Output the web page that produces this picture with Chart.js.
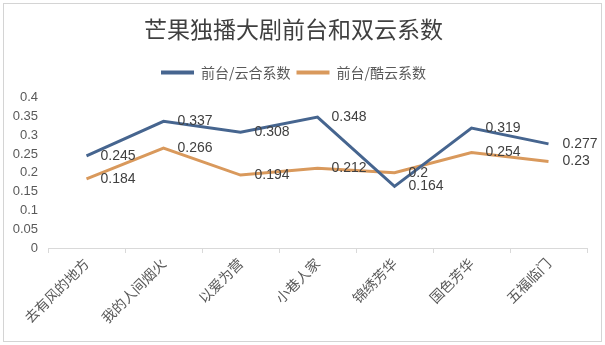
<!DOCTYPE html>
<html>
<head>
<meta charset="utf-8">
<script src="https://cdn.jsdelivr.net/npm/chart.js@4"></script>
<style>
  html, body { margin: 0; padding: 0; background: #ffffff; }
  #wrap { width: 605px; height: 345px; position: relative; }
</style>
</head>
<body>
<div id="wrap"><canvas id="chart"></canvas></div>
<script>
'use strict';

/* ── Data ─────────────────────────────────── */
const CATEGORIES = ['去有风的地方', '我的人间烟火', '以爱为营', '小巷人家', '锦绣芳华', '国色芳华', '五福临门'];
const SERIES_NAMES = ['前台/云合系数', '前台/酷云系数'];
const YUNHE = [0.245, 0.337, 0.308, 0.348, 0.164, 0.319, 0.277];
const KUYUN = [0.184, 0.266, 0.194, 0.212, 0.2, 0.254, 0.23];
const Y_MIN = 0, Y_MAX = 0.4, Y_STEP = 0.05;

const BLUE   = '#46658F';
const ORANGE = '#D9995C';
const TEXT   = '#595959';
const NUM_FONT = "'Liberation Sans', Arial, sans-serif";
const CJK_FONT = "'Noto Sans CJK SC', sans-serif";

/* ── Plugins ──────────────────────────────── */
const frame = {
  id: 'frame',
  beforeLayout(chart) {
    // give the legend a fixed block height so the plot starts at the right spot
    const lg = chart.legend;
    if (lg && !lg._fixedH) {
      const fit = lg.fit.bind(lg);
      lg.fit = function () { fit(); this.height = 38; };
      lg._fixedH = true;
    }
  },
  beforeDraw(chart) {
    const c = chart.ctx;
    c.save();
    c.fillStyle = '#ffffff';
    c.fillRect(0, 0, chart.width, chart.height);
    c.strokeStyle = '#d4d4d4';
    c.lineWidth = 1;
    c.strokeRect(3.5, 3.5, chart.width - 7, chart.height - 7);
    c.restore();
  },
};

// value labels to the right of each point (like Excel "right")
const valueLabels = {
  id: 'valueLabels',
  afterDatasetsDraw(chart) {
    const c = chart.ctx;
    c.save();
    c.font = `14px ${NUM_FONT}`;
    c.fillStyle = '#404040';
    c.textAlign = 'left';
    c.textBaseline = 'middle';
    chart.data.datasets.forEach((ds, i) => {
      chart.getDatasetMeta(i).data.forEach((pt, j) => {
        c.fillText(String(ds.data[j]), pt.x + 14, pt.y);
      });
    });
    c.restore();
  },
};

/* ── Chart ────────────────────────────────── */
new Chart(document.getElementById('chart').getContext('2d'), {
  type: 'line',
  data: {
    labels: CATEGORIES,
    datasets: [
      { label: SERIES_NAMES[0], data: YUNHE, borderColor: BLUE,   backgroundColor: BLUE,   borderWidth: 3, pointRadius: 0, tension: 0 },
      { label: SERIES_NAMES[1], data: KUYUN, borderColor: ORANGE, backgroundColor: ORANGE, borderWidth: 3, pointRadius: 0, tension: 0 },
    ],
  },
  options: {
    responsive: true,
    maintainAspectRatio: false,
    animation: false,
    layout: { padding: { left: 0, right: 18, top: 0, bottom: 0 } },
    plugins: {
      title: {
        display: true,
        text: '芒果独播大剧前台和双云系数',
        color: '#404040',
        font: { family: CJK_FONT, size: 23, weight: 'normal' },
        padding: { top: 15, bottom: 17 },
      },
      legend: {
        position: 'top',
        labels: {
          color: TEXT,
          font: { family: CJK_FONT, size: 14 },
          boxWidth: 33,
          boxHeight: 4,
          padding: 6,
          generateLabels: chart => chart.data.datasets.map((ds, i) => ({
            text: ds.label,
            fillStyle: ds.borderColor,
            strokeStyle: ds.borderColor,
            lineWidth: 0,
            fontColor: TEXT,
            datasetIndex: i,
          })),
        },
      },
      tooltip: { enabled: false },
    },
    scales: {
      x: {
        offset: true,
        grid: { display: true, drawOnChartArea: false, drawTicks: true, tickLength: 5, offset: true, color: '#d9d9d9' },
        border: { color: '#d9d9d9' },
        ticks: {
          color: TEXT,
          font: { family: CJK_FONT, size: 14 },
          maxRotation: 45,
          minRotation: 45,
          padding: 2,
        },
        afterFit(scale) { scale.height = 97; },
      },
      y: {
        min: Y_MIN,
        max: Y_MAX,
        grid: { display: false, drawTicks: false },
        border: { display: false },
        ticks: {
          stepSize: Y_STEP,
          color: TEXT,
          font: { family: NUM_FONT, size: 13 },
          padding: 10,
          callback: v => String(Math.round(v * 100) / 100),
        },
        afterFit(scale) { scale.width = 48; },
      },
    },
  },
  plugins: [frame, valueLabels],
});
</script>
</body>
</html>
